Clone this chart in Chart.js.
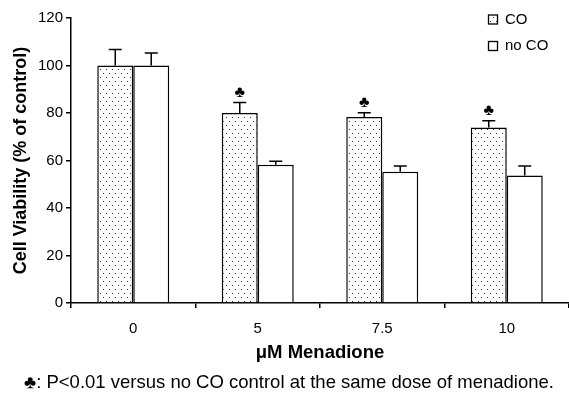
<!DOCTYPE html>
<html>
<head>
<meta charset="utf-8">
<script src="https://cdn.jsdelivr.net/npm/chart.js@4.4.0/dist/chart.umd.min.js"></script>
<style>
  html, body { margin: 0; padding: 0; background: #fff; }
  #wrap { width: 569px; height: 397px; position: relative; }
</style>
</head>
<body>
<div id="wrap"><canvas id="grafico"></canvas></div>
<script>
// Datos
const doses = ['0', '5', '7.5', '10'];
const coMeans = [100, 80, 78.3, 73.9];
const coErrors = [6.7, 4.4, 1.8, 2.8];
const noCoMeans = [100, 58.2, 55.3, 53.7];
const noCoErrors = [5.3, 1.5, 2.4, 4.0];
const coSignificant = [false, true, true, true];
const yTicks = [0, 20, 40, 60, 80, 100, 120];

const FONT = "'Liberation Sans', Arial, Helvetica, sans-serif";

// Patrón de puntos para la serie CO
function makeDotPattern() {
    const tile = document.createElement('canvas');
    tile.width = 6;
    tile.height = 8;
    const c = tile.getContext('2d');
    c.fillStyle = '#fff';
    c.fillRect(0, 0, 6, 8);
    c.fillStyle = '#333';
    c.fillRect(1, 1, 1, 1);
    c.fillRect(4, 5, 1, 1);
    return document.getElementById('grafico').getContext('2d').createPattern(tile, 'repeat');
}

// Barras de error (solo hacia arriba) y símbolo de significancia
const errorBarsPlugin = {
    id: 'errorBars',
    afterDatasetsDraw(chart) {
        const ctx = chart.ctx;
        const y = chart.scales.y;
        const errs = [coErrors, noCoErrors];
        ctx.save();
        ctx.strokeStyle = '#000';
        ctx.lineWidth = 1.5;
        chart.data.datasets.forEach((ds, di) => {
            const meta = chart.getDatasetMeta(di);
            meta.data.forEach((bar, i) => {
                const top = y.getPixelForValue(ds.data[i] + errs[di][i]);
                ctx.beginPath();
                ctx.moveTo(bar.x, bar.y);
                ctx.lineTo(bar.x, top);
                ctx.moveTo(bar.x - 6.5, top);
                ctx.lineTo(bar.x + 6.5, top);
                ctx.stroke();
                if (di === 0 && coSignificant[i]) {
                    ctx.fillStyle = '#000';
                    ctx.font = '16px ' + FONT;
                    ctx.textAlign = 'center';
                    ctx.textBaseline = 'middle';
                    ctx.fillText('\u2663', bar.x, top - 10);
                }
            });
        });
        ctx.restore();
    }
};

// Leyenda y nota al pie
const legendNotePlugin = {
    id: 'legendNote',
    afterDraw(chart) {
        const ctx = chart.ctx;
        ctx.save();
        ctx.font = '15px ' + FONT;
        ctx.textBaseline = 'middle';
        ctx.textAlign = 'left';
        ctx.fillStyle = '#000';
        ctx.lineWidth = 1.3;
        ctx.strokeStyle = '#000';
        const items = [
            { label: 'CO', fill: chart.data.datasets[0].backgroundColor, y: 19.5 },
            { label: 'no CO', fill: '#fff', y: 46 }
        ];
        items.forEach(it => {
            ctx.fillStyle = it.fill;
            ctx.fillRect(488.5, it.y - 4.5, 9, 9);
            ctx.strokeRect(488.5, it.y - 4.5, 9, 9);
            ctx.fillStyle = '#000';
            ctx.fillText(it.label, 505, it.y);
        });
        ctx.font = '18.5px ' + FONT;
        ctx.textAlign = 'center';
        ctx.fillText('\u2663: P<0.01 versus no CO control at the same dose of menadione.', 289, 383);
        ctx.restore();
    }
};

const dots = makeDotPattern();

new Chart(document.getElementById('grafico'), {
    type: 'bar',
    data: {
        labels: doses,
        datasets: [
            {
                label: 'CO',
                data: coMeans,
                backgroundColor: dots,
                borderColor: '#000',
                borderWidth: 1.5,
                borderSkipped: 'bottom',
                categoryPercentage: 0.578,
                barPercentage: 1
            },
            {
                label: 'no CO',
                data: noCoMeans,
                backgroundColor: '#fff',
                borderColor: '#000',
                borderWidth: 1.5,
                borderSkipped: 'bottom',
                categoryPercentage: 0.578,
                barPercentage: 1
            }
        ]
    },
    options: {
        responsive: true,
        maintainAspectRatio: false,
        animation: false,
        layout: { padding: { top: 18, right: 0, bottom: 30, left: 0 } },
        plugins: {
            legend: { display: false },
            tooltip: { enabled: false }
        },
        scales: {
            y: {
                min: 0,
                max: 120,
                afterBuildTicks(scale) {
                    scale.ticks = yTicks.map(v => ({ value: v }));
                },
                afterFit(scale) { scale.width = 71; },
                ticks: {
                    color: '#000',
                    padding: 3,
                    font: { family: FONT, size: 15 }
                },
                grid: {
                    drawOnChartArea: false,
                    drawTicks: true,
                    tickLength: 5,
                    color: '#000',
                    lineWidth: 1.5
                },
                border: { color: '#000', width: 1.5 },
                title: {
                    display: true,
                    text: 'Cell Viability (% of control)',
                    color: '#000',
                    padding: { top: 10, bottom: 0 },
                    font: { family: FONT, size: 18, weight: 'bold' }
                }
            },
            x: {
                afterFit(scale) { scale.height = 64; },
                ticks: {
                    color: '#000',
                    padding: 12,
                    font: { family: FONT, size: 15 }
                },
                grid: {
                    offset: true,
                    drawOnChartArea: false,
                    drawTicks: true,
                    tickLength: 5,
                    color: '#000',
                    lineWidth: 1.5
                },
                border: { color: '#000', width: 1.5 },
                title: {
                    display: true,
                    text: '\u03bcM Menadione',
                    color: '#000',
                    padding: { top: 6, bottom: 3 },
                    font: { family: FONT, size: 18.5, weight: 'bold' }
                }
            }
        }
    },
    plugins: [errorBarsPlugin, legendNotePlugin]
});
</script>
</body>
</html>
